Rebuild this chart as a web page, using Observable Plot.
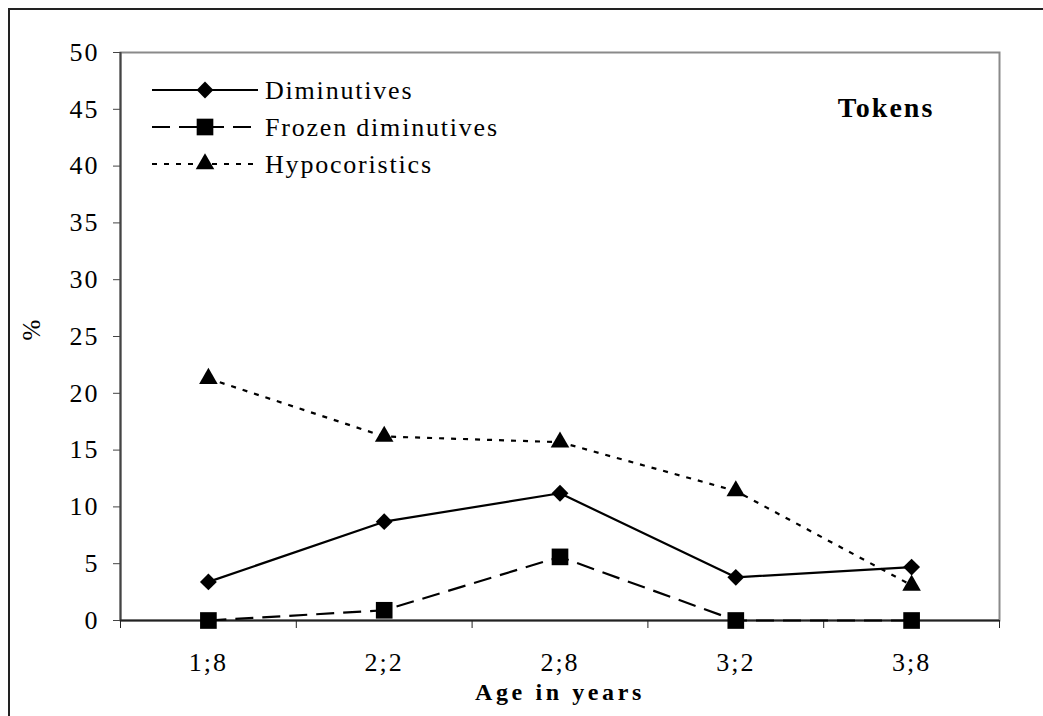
<!DOCTYPE html>
<html><head><meta charset="utf-8">
<script src="https://cdn.jsdelivr.net/npm/d3@7"></script>
<script src="https://cdn.jsdelivr.net/npm/@observablehq/plot@0.6"></script>
<style>
body{margin:0;background:#fff;overflow:hidden;}
#wrap{position:relative;width:1043px;height:716px;overflow:hidden;background:#fff;}
#border{position:absolute;left:8px;top:8px;width:1100px;height:800px;border:2px solid #222;}
#wrap svg{position:absolute;left:0;top:0;}
</style></head><body><div id="wrap"><div id="border"></div></div>
<script>
// ---- data ----
const ages = ["1;8", "2;2", "2;8", "3;2", "3;8"];
const diminutives = [3.4, 8.7, 11.2, 3.8, 4.7];
const frozenDiminutives = [0, 0.9, 5.6, 0, 0];
const hypocoristics = [21.3, 16.2, 15.7, 11.4, 3.1];
const yTicks = [0, 5, 10, 15, 20, 25, 30, 35, 40, 45, 50];
const seriesNames = ["Diminutives", "Frozen diminutives", "Hypocoristics"];
const chartTitle = "Tokens";
const xTitle = "Age in years";
const yTitle = "%";

// ---- styling per series ----
const styles = [
  {name: seriesNames[0], values: diminutives, symbol: "diamond2", d3sym: d3.symbolDiamond2, r: 7.6, dash: null},
  {name: seriesNames[1], values: frozenDiminutives, symbol: "square", d3sym: d3.symbolSquare, r: 9.4, dash: "18,9"},
  {name: seriesNames[2], values: hypocoristics, symbol: "triangle", d3sym: d3.symbolTriangle, r: 6.9, dash: "5,7"}
];

const idx = ages.map((_, i) => i);
const xDomain = [-0.5, ages.length - 0.5];
const boundaries = d3.range(xDomain[0], xDomain[1] + 0.01, 1);

const font = "'Liberation Serif', 'Times New Roman', serif";

const marks = [
  Plot.frame({stroke: "#8a8a8a", strokeWidth: 2}),
  Plot.ruleX([xDomain[0]], {stroke: "#444", strokeWidth: 2}),
  Plot.ruleY([0], {stroke: "#222", strokeWidth: 2}),
  Plot.axisY(yTicks, {label: null, tickSize: 7, tickPadding: 14, stroke: "#444", fill: "#000", fontSize: 26, tickFormat: d => String(d)}),
  Plot.axisX(boundaries, {label: null, tickSize: 8, stroke: "#222", tickFormat: () => ""}),
  Plot.axisX(idx, {label: null, tickSize: 0, tickPadding: 32, fill: "#000", fontSize: 26, tickFormat: i => ages[i]})
];
for (const s of styles) {
  const data = idx.map(i => ({i, v: s.values[i]}));
  marks.push(Plot.line(data, {x: "i", y: "v", stroke: "#000", strokeWidth: 2.2, strokeDasharray: s.dash, strokeLinecap: "butt"}));
}
for (const s of styles) {
  const data = idx.map(i => ({i, v: s.values[i]}));
  marks.push(Plot.dot(data, {x: "i", y: "v", symbol: () => s.symbol, r: s.r, fill: "#000", stroke: "none"}));
}

const chart = Plot.plot({
  width: 1043,
  height: 716,
  marginLeft: 120,
  marginRight: 44,
  marginTop: 52,
  marginBottom: 96,
  style: {fontFamily: font, fontSize: "26px", background: "transparent", letterSpacing: "2px"},
  x: {type: "linear", domain: xDomain, axis: null, label: null},
  y: {type: "linear", domain: [0, 50], axis: null, label: null},
  symbol: {type: "identity"},
  marks
});
document.getElementById("wrap").appendChild(chart);

// ---- overlay: legend and titles ----
const ov = d3.select("#wrap").append("svg")
  .attr("width", 1043).attr("height", 716)
  .style("font-family", font);

const legendRows = [90, 127, 164];
styles.forEach((s, k) => {
  const y = legendRows[k];
  ov.append("line").attr("x1", 152).attr("x2", 258).attr("y1", y).attr("y2", y)
    .attr("stroke", "#000").attr("stroke-width", 2.2)
    .attr("stroke-dasharray", s.dash);
  ov.append("path").attr("transform", `translate(205,${y})`)
    .attr("d", d3.symbol(s.d3sym, Math.PI * s.r * s.r)()).attr("fill", "#000");
  ov.append("text").attr("x", 265).attr("y", y).attr("dy", "0.33em")
    .attr("font-size", 26).attr("letter-spacing", "1.8px").attr("fill", "#000").text(s.name);
});

ov.append("text").attr("x", 886).attr("y", 117).attr("text-anchor", "middle")
  .attr("font-size", 28).attr("font-weight", "bold").attr("letter-spacing", "2px")
  .attr("fill", "#000").text(chartTitle);

ov.append("text").attr("x", 560).attr("y", 700).attr("text-anchor", "middle")
  .attr("font-size", 24).attr("font-weight", "bold").attr("letter-spacing", "3.6px")
  .attr("fill", "#000").text(xTitle);

ov.append("text").attr("transform", "translate(40,330) rotate(-90)").attr("text-anchor", "middle")
  .attr("font-size", 25).attr("fill", "#000").text(yTitle);
</script></body></html>
